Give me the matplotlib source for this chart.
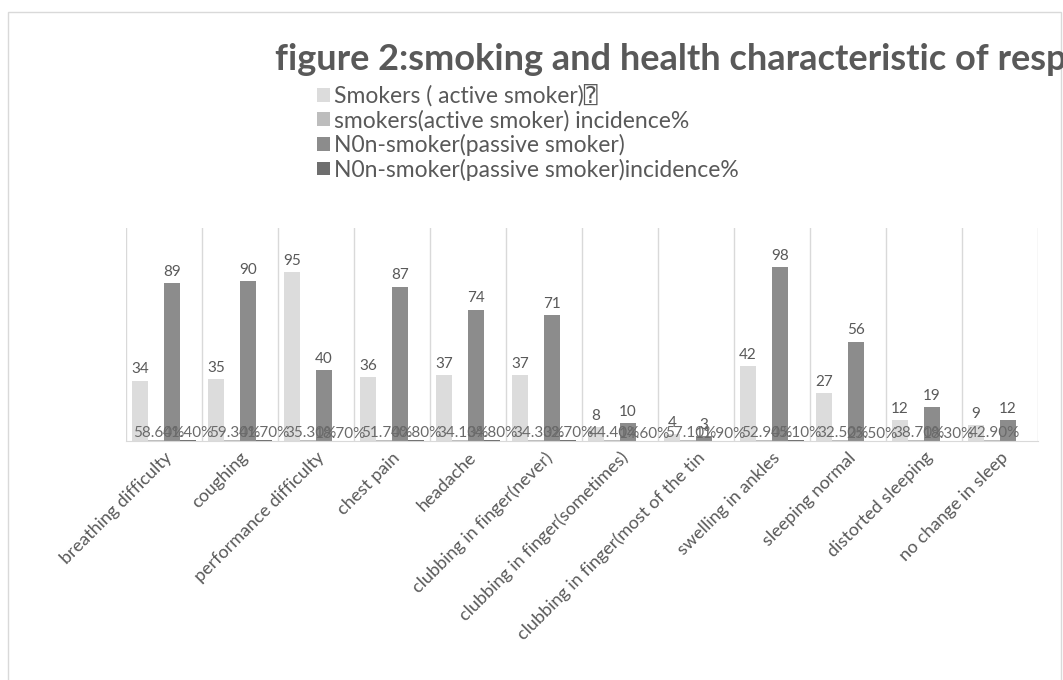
import matplotlib
matplotlib.use("Agg")
import matplotlib.pyplot as plt
import matplotlib.patches as mpatches
import numpy as np

categories = ["breathing difficulty", "coughing", "performance difficulty", "chest pain",
              "headache", "clubbing in finger(never)", "clubbing in finger(sometimes)",
              "clubbing in finger(most of the tin", "swelling in ankles", "sleeping normal",
              "distorted sleeping", "no change in sleep"]
smokers = [34, 35, 95, 36, 37, 37, 8, 4, 42, 27, 12, 9]
smokers_inc = [58.60, 59.30, 35.30, 51.70, 34.10, 34.30, 44.40, 57.10, 52.90, 32.50, 38.70, 42.90]
nonsmokers = [89, 90, 40, 87, 74, 71, 10, 3, 98, 56, 19, 12]
nonsmokers_inc = [41.40, 41.70, 18.70, 40.80, 34.80, 32.70, 14.60, 11.90, 45.10, 25.50, 18.30, None]
series_names = ["Smokers ( active smoker)\u2370", "smokers(active smoker) incidence%",
                "N0n-smoker(passive smoker)", "N0n-smoker(passive smoker)incidence%"]
title = "figure 2:smoking and health characteristic of respondents"

FAM = ['Lato', 'DejaVu Sans', 'DejaVu Sans Mono', 'Noto Sans']
plt.rcParams['font.family'] = FAM
TXT = "#595959"
colors = ["#dcdcdc", "#bdbdbd", "#8c8c8c", "#6e6e6e"]

fig = plt.figure(figsize=(10.63, 6.80), dpi=100)
W, H = 1063, 680
ax = fig.add_axes([126 / W, 1 - 441 / H, (1038 - 126) / W, (441 - 228) / H])

x = np.arange(len(categories))
bw = 0.21
inc_s = [v / 100 for v in smokers_inc]
inc_n = [0 if v is None else v / 100 for v in nonsmokers_inc]
data = [smokers, inc_s, nonsmokers, inc_n]
offs = [-1.5, -0.5, 0.5, 1.5]
for k in range(4):
    ax.bar(x + offs[k] * bw, data[k], width=bw, color=colors[k], label=series_names[k], zorder=2)

for i in range(len(categories)):
    ax.annotate(str(smokers[i]), (x[i] + offs[0] * bw, smokers[i]), xytext=(0, 3),
                textcoords="offset points", ha="center", va="bottom", fontsize=11, color=TXT)
    ax.annotate(str(nonsmokers[i]), (x[i] + offs[2] * bw, nonsmokers[i]), xytext=(0, 3),
                textcoords="offset points", ha="center", va="bottom", fontsize=11, color=TXT)
for i in range(len(categories)):
    ax.annotate("%.2f%%" % smokers_inc[i], (x[i] + offs[1] * bw, inc_s[i]), xytext=(2, 0),
                textcoords="offset points", ha="center", va="bottom", fontsize=11, color="#6a6a6a")
for i in range(len(categories)):
    if nonsmokers_inc[i] is not None:
        ax.annotate("%.2f%%" % nonsmokers_inc[i], (x[i] + offs[3] * bw, inc_n[i]), xytext=(0, 0),
                    textcoords="offset points", ha="center", va="bottom", fontsize=11, color="#6a6a6a")

ax.set_xlim(-0.5, len(categories) - 0.5)
ax.set_ylim(0, 120)
ax.set_yticks([])
ax.set_xticks(x)
ax.set_xticklabels(categories, rotation=45, ha="right", rotation_mode="anchor",
                   fontsize=13, color=TXT)
ax.tick_params(axis="x", length=0, pad=6)
ax.set_xticks(np.arange(len(categories) + 1) - 0.5, minor=True)
ax.tick_params(axis="x", which="minor", length=0)
ax.grid(axis="x", which="minor", color="#d9d9d9", linewidth=1, zorder=0)
for s in ["top", "left", "right"]:
    ax.spines[s].set_visible(False)
ax.spines["bottom"].set_color("#d9d9d9")
ax.set_facecolor("none")

fig.add_artist(mpatches.Rectangle((8 / W, -0.05), (1061 - 8) / W, 1 - 12 / H + 0.05,
                                  transform=fig.transFigure, fill=False,
                                  edgecolor="#d9d9d9", linewidth=1))

fig.text(275 / W, 1 - 70 / H, title, fontsize=26, fontweight="bold", color=TXT, va="baseline")

leg = fig.legend(loc="upper left", bbox_to_anchor=(317 / W, 1 - 85 / H), frameon=False,
                 fontsize=16.5, handlelength=0.55, handleheight=0.55, handletextpad=0.2,
                 labelspacing=0.11, borderpad=0, borderaxespad=0)
for t in leg.get_texts():
    t.set_color(TXT)

fig.savefig("out.png", dpi=100)
